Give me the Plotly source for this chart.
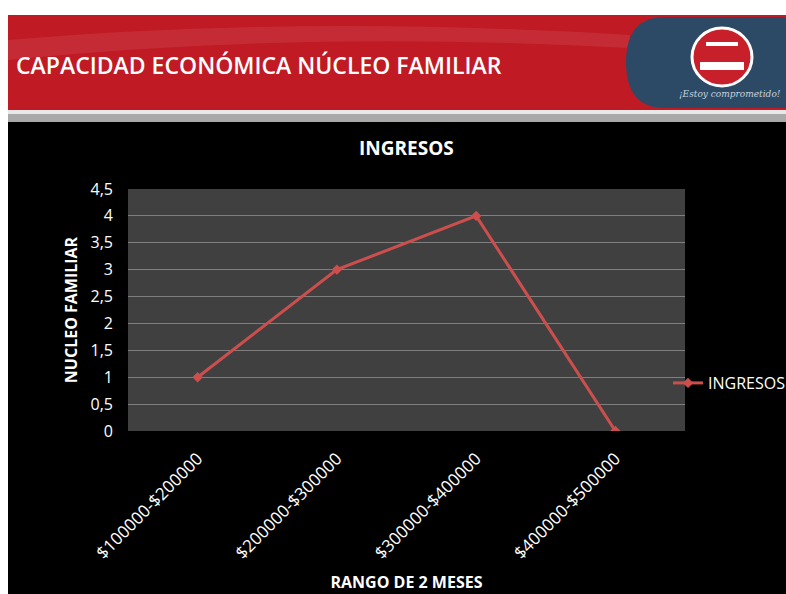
import plotly.graph_objects as go

categories = ["$100000-$200000", "$200000-$300000", "$300000-$400000", "$400000-$500000"]
ingresos = [1, 3, 4, 0]
y_ticks = [0, 0.5, 1, 1.5, 2, 2.5, 3, 3.5, 4, 4.5]
y_tick_labels = ["0", "0,5", "1", "1,5", "2", "2,5", "3", "3,5", "4", "4,5"]

W, H = 786, 594
L, R, T, B = 128, 685, 189, 431  # plot area in pixels


def px(x):
    return (x - L) / (R - L)


def py(y):
    return (B - y) / (B - T)


fig = go.Figure()
fig.add_trace(go.Scatter(
    x=categories, y=ingresos, mode="lines+markers", name="INGRESOS",
    line=dict(color="#cc4f4d", width=3),
    marker=dict(symbol="diamond", size=8, color="#cc4f4d"),
))

shapes = [
    dict(type="rect", xref="paper", yref="paper", x0=px(0), x1=px(W), y0=py(0), y1=py(15),
         fillcolor="white", line_width=0, layer="below"),
    dict(type="rect", xref="paper", yref="paper", x0=px(0), x1=px(8), y0=py(0), y1=py(H),
         fillcolor="white", line_width=0, layer="below"),
    dict(type="rect", xref="paper", yref="paper", x0=px(8), x1=px(W), y0=py(15), y1=py(110),
         fillcolor="#c01a24", line_width=0, layer="below"),
    dict(type="path", xref="paper", yref="paper", layer="below", line_width=0,
         fillcolor="rgba(255,255,255,0.08)",
         path=f"M {px(8)},{py(40)} Q {px(300)},{py(15)} {px(630)},{py(35)} L {px(630)},{py(48)} Q {px(300)},{py(30)} {px(8)},{py(60)} Z"),
    dict(type="rect", xref="paper", yref="paper", x0=px(8), x1=px(W), y0=py(110), y1=py(114),
         fillcolor="#e8e8e8", line_width=0, layer="below"),
    dict(type="rect", xref="paper", yref="paper", x0=px(8), x1=px(W), y0=py(114), y1=py(122),
         fillcolor="#a9a9a9", line_width=0, layer="below"),
    dict(type="path", xref="paper", yref="paper", layer="below", line_width=0,
         fillcolor="#2c4a66",
         path=f"M {px(665)},{py(17)} L {px(W)},{py(17)} L {px(W)},{py(108)} L {px(665)},{py(108)} "
              f"Q {px(626)},{py(108)} {px(626)},{py(62)} Q {px(626)},{py(17)} {px(665)},{py(17)} Z"),
    dict(type="circle", xref="paper", yref="paper", layer="below",
         x0=px(692), x1=px(752), y0=py(28), y1=py(86),
         fillcolor="#c8202a", line=dict(color="white", width=3)),
    dict(type="rect", xref="paper", yref="paper", layer="below",
         x0=px(700), x1=px(744), y0=py(62), y1=py(70),
         fillcolor="white", line_width=0),
    dict(type="rect", xref="paper", yref="paper", layer="below",
         x0=px(706), x1=px(738), y0=py(42), y1=py(46),
         fillcolor="white", line_width=0),
]

annotations = [
    dict(text="CAPACIDAD ECONÓMICA NÚCLEO FAMILIAR", xref="paper", yref="paper",
         x=px(14), y=py(65), xanchor="left", yanchor="middle", showarrow=False,
         font=dict(family="Open Sans", size=23, color="white", weight=600)),
    dict(text="<i>¡Estoy comprometido!</i>", xref="paper", yref="paper",
         x=px(783), y=py(94), xanchor="right", yanchor="middle", showarrow=False,
         font=dict(family="DejaVu Serif", size=9, color="#c9d3dc")),
    dict(text="<b>INGRESOS</b>", xref="paper", yref="paper",
         x=0.5, y=py(148), xanchor="center", yanchor="middle", showarrow=False,
         font=dict(family="Open Sans", size=19, color="white")),
]

fig.update_layout(
    width=W, height=H, autosize=False,
    margin=dict(l=L, r=W - R, t=T, b=H - B, pad=0, autoexpand=False),
    paper_bgcolor="black", plot_bgcolor="#404040",
    shapes=shapes, annotations=annotations,
    font=dict(family="Open Sans", color="white", size=14),
    showlegend=True,
    legend=dict(x=px(668), y=py(383), xanchor="left", yanchor="middle",
                bgcolor="rgba(0,0,0,0)", font=dict(size=16, color="white"),
                itemwidth=30),
    xaxis=dict(
        type="category", range=[-0.5, 3.5], tickangle=-45, automargin=False,
        showgrid=False, zeroline=False, showline=False,
        ticks="outside", ticklen=10, tickcolor="rgba(0,0,0,0)",
        tickfont=dict(size=17, color="white"),
        title=dict(text="<b>RANGO DE 2 MESES</b>", font=dict(size=16, color="white"), standoff=14),
    ),
    yaxis=dict(
        range=[0, 4.5], tickvals=y_ticks, ticktext=y_tick_labels, automargin=False,
        showgrid=True, gridcolor="#7f7f7f", gridwidth=1, zeroline=False,
        showline=False, ticks="", ticklabelstandoff=14,
        tickfont=dict(size=16, color="white"),
        title=dict(text="<b>NUCLEO FAMILIAR</b>", font=dict(size=16, color="white"), standoff=8),
    ),
)

fig.write_html(
    "out.html",
    config={"responsive": False, "displayModeBar": False},
    default_width="786px", default_height="594px",
    post_script="document.body.style.margin='0';document.body.style.overflow='hidden';",
)
